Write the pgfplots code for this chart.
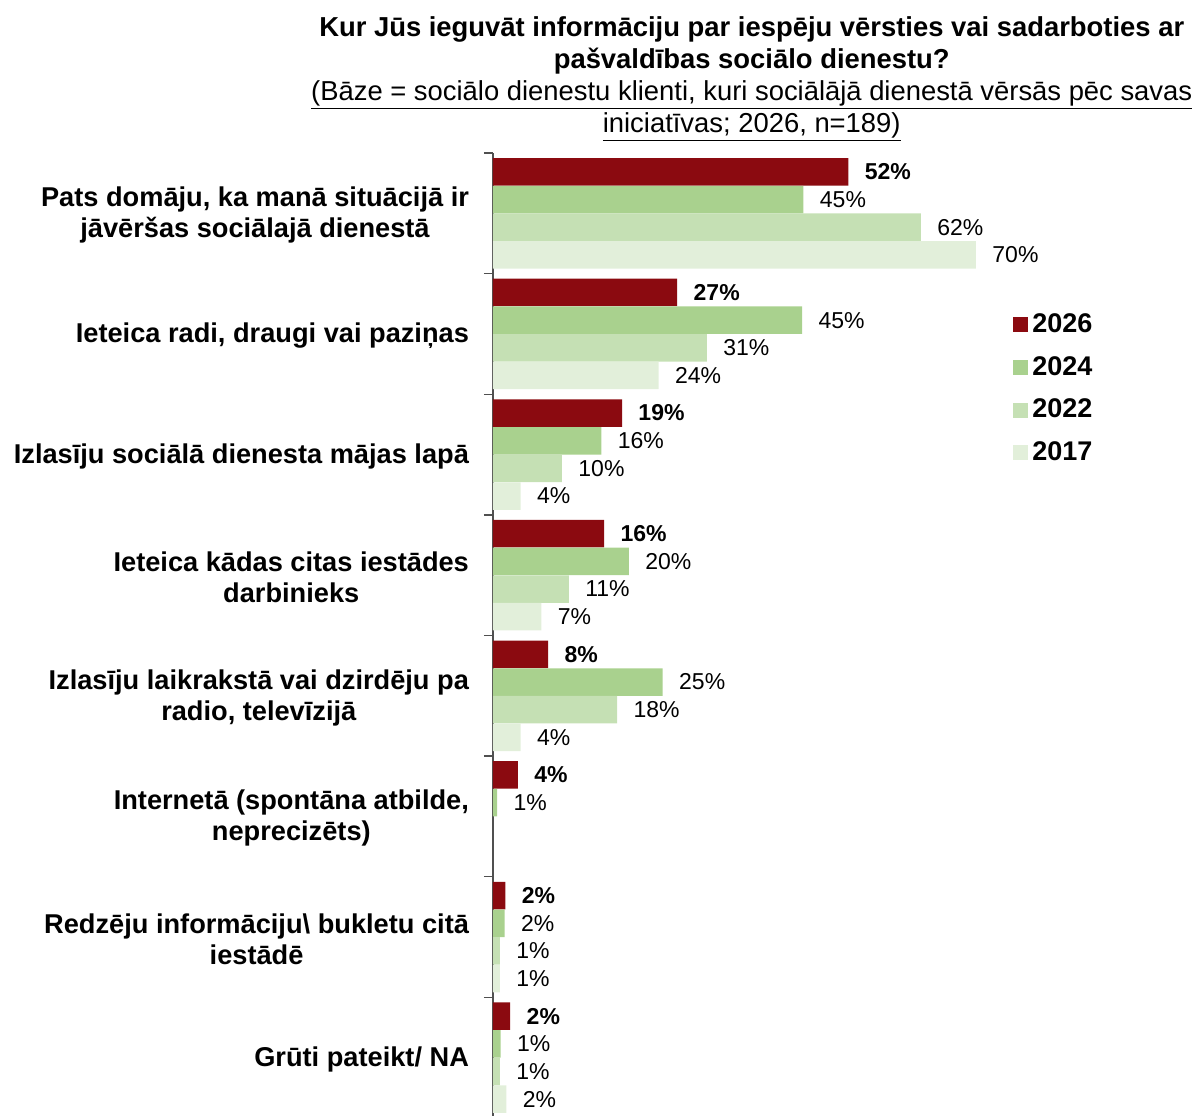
\documentclass[border=0pt]{standalone}
\usepackage{pgfplots}
\pgfplotsset{compat=1.18}
\usepackage{fontspec}
\setmainfont{Liberation Sans}
\definecolor{c2026}{RGB}{139,10,16}
\definecolor{c2024}{RGB}{169,209,142}
\definecolor{c2022}{RGB}{197,224,180}
\definecolor{c2017}{RGB}{226,239,218}
\definecolor{axisgray}{RGB}{80,80,80}
\begin{document}
\begin{tikzpicture}
\begin{axis}[
  scale only axis, width=276pt, height=482.5pt,
  xmin=0, xmax=80, ymin=-0.5, ymax=7.5, y dir=reverse,
  axis x line=none, axis y line=left,
  axis line style={-, axisgray, line width=0.65pt},
  ytick={0,...,7}, minor ytick={-0.5,0.5,...,7.5},
  major tick length=0pt, minor tick length=4.5pt, tick align=outside,
  minor tick style={axisgray, line width=0.65pt},
  yticklabels={
    {Pats domāju, ka manā situācijā ir\\jāvēršas sociālajā dienestā},
    {Ieteica radi, draugi vai paziņas},
    {Izlasīju sociālā dienesta mājas lapā},
    {Ieteica kādas citas iestādes\\darbinieks},
    {Izlasīju laikrakstā vai dzirdēju pa\\radio, televīzijā},
    {Internetā (spontāna atbilde,\\neprecizēts)},
    {Redzēju informāciju\textbackslash{} bukletu citā\\iestādē},
    {Grūti pateikt/ NA}},
  yticklabel style={align=center, font=\fontsize{13.6}{15.5}\selectfont\bfseries, xshift=-8.5pt, yshift=-1pt},
  clip=false,
  point meta=explicit symbolic,
  nodes near coords={\pgfplotspointmeta\%},
  every node near coord/.append style={font=\fontsize{11.5}{13}\selectfont, anchor=west, xshift=4.7pt, black},
  legend style={draw=none, fill=none, at={(axis cs:74.5,0.76)}, anchor=north west,
    font=\fontsize{13.5}{16}\selectfont\bfseries, row sep=6.5pt, cells={anchor=west}},
  legend cell align=left,
]
\addplot[xbar, bar width=13.75pt, bar shift=20.75pt, fill=c2026, draw=none,
  every node near coord/.append style={font=\fontsize{11.5}{13}\selectfont\bfseries, yshift=20.75pt},
  legend image code/.code={\fill[c2026] (0pt,-3.75pt) rectangle (7.5pt,3.75pt);}]
  coordinates {(51.5,0)[52] (26.7,1)[27] (18.7,2)[19] (16.1,3)[16] (8,4)[8] (3.6,5)[4] (1.8,6)[2] (2.5,7)[2]};
\addlegendentry{2026}
\addplot[xbar, bar width=13.75pt, bar shift=6.9pt, fill=c2024, draw=none,
  every node near coord/.append style={yshift=6.9pt},
  legend image code/.code={\fill[c2024] (0pt,-3.75pt) rectangle (7.5pt,3.75pt);}]
  coordinates {(45,0)[45] (44.8,1)[45] (15.7,2)[16] (19.7,3)[20] (24.6,4)[25] (0.6,5)[1] (1.7,6)[2] (1.1,7)[1]};
\addlegendentry{2024}
\addplot[xbar, bar width=13.75pt, bar shift=-6.9pt, fill=c2022, draw=none,
  every node near coord/.append style={yshift=-6.9pt},
  legend image code/.code={\fill[c2022] (0pt,-3.75pt) rectangle (7.5pt,3.75pt);}]
  coordinates {(62,0)[62] (31,1)[31] (10,2)[10] (11,3)[11] (18,4)[18] (1.0,6)[1] (1.0,7)[1]};
\addlegendentry{2022}
\addplot[xbar, bar width=13.75pt, bar shift=-20.75pt, fill=c2017, draw=none,
  every node near coord/.append style={yshift=-20.75pt},
  legend image code/.code={\fill[c2017] (0pt,-3.75pt) rectangle (7.5pt,3.75pt);}]
  coordinates {(70,0)[70] (24,1)[24] (4,2)[4] (7,3)[7] (4,4)[4] (1.0,6)[1] (1.95,7)[2]};
\addlegendentry{2017}
\node[align=center, anchor=south, font=\fontsize{13.7}{16}\selectfont, yshift=2pt]
  at (axis cs:37.5,-0.5)
  {\textbf{Kur Jūs ieguvāt informāciju par iespēju vērsties vai sadarboties ar}\\
   \textbf{pašvaldības sociālo dienestu?}\\
   \underline{(Bāze = sociālo dienestu klienti, kuri sociālājā dienestā vērsās pēc savas}\\
   \underline{iniciatīvas; 2026, n=189)}};
\end{axis}
\pgfresetboundingbox
\path[use as bounding box] (-246.5pt,1.5pt) rectangle (349.5pt,559pt);
\end{tikzpicture}
\end{document}
